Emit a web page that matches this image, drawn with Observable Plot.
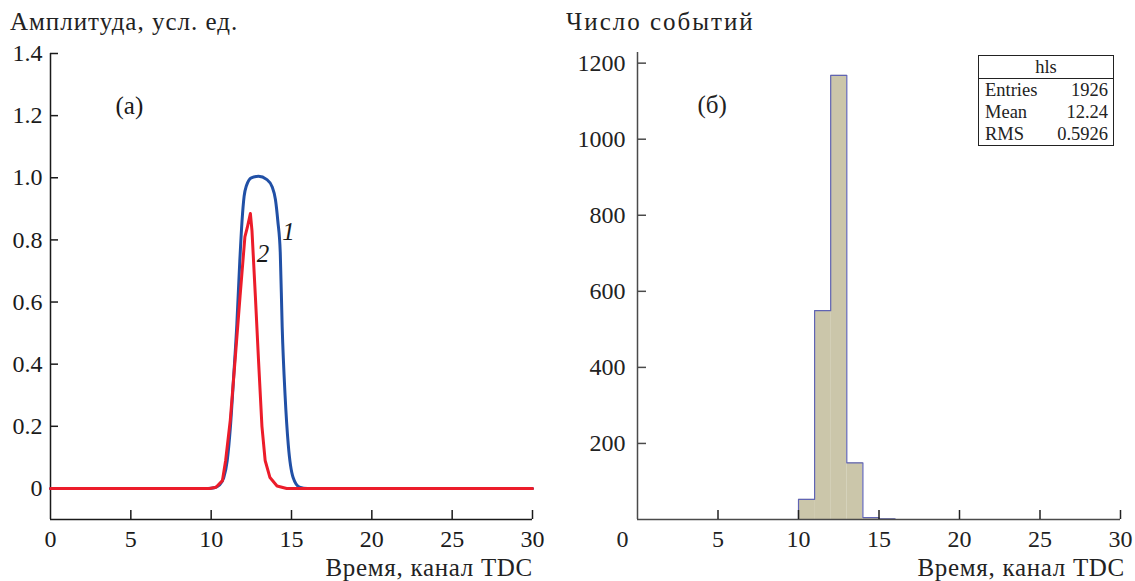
<!DOCTYPE html>
<html>
<head>
<meta charset="utf-8">
<script src="https://cdn.jsdelivr.net/npm/d3@7"></script>
<script src="https://cdn.jsdelivr.net/npm/@observablehq/plot@0.6"></script>
<style>
  body { margin: 0; background: #fff; }
  #wrap { position: relative; width: 1135px; height: 581px; overflow: hidden;
          font-family: "Liberation Serif", "Times New Roman", serif; color: #222; }
  .panel { position: absolute; top: 0; }
  .txt { position: absolute; white-space: nowrap; font-size: 25px; line-height: 1; }
  #stats { position: absolute; left: 978px; top: 55px; width: 134px; border: 1px solid #222;
           background: #fff; font-size: 18.5px; line-height: 1; color: #222; }
  #stats .hdr { text-align: center; height: 22px; line-height: 22px; border-bottom: 1px solid #222; }
  #stats .row { display: flex; justify-content: space-between; padding: 0 5px 0 6px; height: 22px; line-height: 22px; }
</style>
</head>
<body>
<div id="wrap">
  <div class="txt" style="left:10px; top:9px; letter-spacing:1px;">Амплитуда, усл. ед.</div>
  <div class="txt" style="left:566px; top:9px; letter-spacing:2px;">Число событий</div>
  <div class="txt" style="right:602px; top:555px; letter-spacing:0.7px;">Время, канал TDC</div>
  <div class="txt" style="right:10px; top:555px; letter-spacing:0.7px;">Время, канал TDC</div>
  <div id="left" class="panel" style="left:0"></div>
  <div id="right" class="panel" style="left:567px"></div>
  <div id="stats"></div>
</div>
<script>
// Panel (а): pulse shapes, amplitude vs TDC channel
const timeBlue = [0, 9.8, 10.2, 10.5, 10.78, 11.0, 11.2, 11.4, 11.6, 11.78, 11.92, 12.05, 12.2, 12.5,
                  12.95, 13.45, 13.8, 14.0, 14.15, 14.3, 14.42, 14.6, 14.8, 15.1, 15.5, 16.0, 30];
const ampBlue  = [0, 0, 0.002, 0.01, 0.034, 0.09, 0.2, 0.36, 0.53, 0.73, 0.86, 0.94, 0.975, 1.0,
                  1.005, 0.995, 0.97, 0.93, 0.86, 0.76, 0.52, 0.3, 0.14, 0.035, 0.004, 0, 0];
const timeRed  = [0, 9.9, 10.3, 10.7, 10.9, 11.19, 11.5, 11.8, 12.1, 12.25, 12.44, 12.54,
                  12.75, 12.95, 13.16, 13.36, 13.66, 14.1, 14.7, 30];
const ampRed   = [0, 0, 0.004, 0.025, 0.09, 0.22, 0.42, 0.62, 0.81, 0.84, 0.885, 0.83,
                  0.62, 0.41, 0.2, 0.09, 0.035, 0.008, 0, 0];
const ampTicks = [0, 0.2, 0.4, 0.6, 0.8, 1.0, 1.2, 1.4];
const timeTicks = [0, 5, 10, 15, 20, 25, 30];

// Panel (б): histogram of events per TDC channel
const binLow = [10, 11, 12, 13, 14, 15];
const binCount = [53, 549, 1168, 149, 5, 2];
const countTicks = [200, 400, 600, 800, 1000, 1200];
const statNames = ["Entries", "Mean", "RMS"];
const statValues = ["1926", "12.24", "0.5926"];

const font = "Liberation Serif, Times New Roman, serif";
const blue = "#2150a6", red = "#ec1c2a";

// ---- left panel ----
const LW = 567, LH = 581, lm = {l: 50, r: 35, t: 53, b: 62};
const lpw = LW - lm.l - lm.r, lph = LH - lm.t - lm.b;
const blueData = timeBlue.map((t, i) => ({t, a: ampBlue[i]}));
const redData = timeRed.map((t, i) => ({t, a: ampRed[i]}));
const ink = "#1a1a1a";

const leftPlot = Plot.plot({
  width: LW, height: LH,
  marginLeft: lm.l, marginRight: lm.r, marginTop: lm.t, marginBottom: lm.b,
  x: {domain: [0, 30]},
  y: {domain: [-0.1, 1.4]},
  style: {fontFamily: font, fontSize: "24px", color: ink, background: "transparent", overflow: "visible"},
  marks: [
    Plot.ruleY([-0.1], {stroke: ink, strokeWidth: 1.5}),
    Plot.ruleX([0], {stroke: ink, strokeWidth: 1.5}),
    Plot.tickX(timeTicks.filter(d => d > 0), {x: d => d, insetTop: lph - 9, stroke: ink, strokeWidth: 1.5}),
    Plot.tickY(ampTicks, {y: d => d, insetRight: lpw - 8, stroke: ink, strokeWidth: 1.5}),
    Plot.axisX({ticks: timeTicks, tickSize: 0, tickPadding: 10, label: null, fontSize: 24, tickFormat: d => String(d)}),
    Plot.axisY({ticks: ampTicks, tickSize: 0, tickPadding: 8, label: null, fontSize: 24,
                tickFormat: d => d === 0 ? "0" : d.toFixed(1)}),
    Plot.line(blueData, {x: "t", y: "a", stroke: blue, strokeWidth: 3, curve: "monotone-x"}),
    Plot.line(redData, {x: "t", y: "a", stroke: red, strokeWidth: 3}),
    Plot.text(["(а)"], {frameAnchor: "top-left", dx: 65, dy: 43, fontSize: 25, textAnchor: "start", fill: ink}),
    Plot.text([{t: 14.82, a: 0.825, s: "1"}, {t: 13.23, a: 0.755, s: "2"}],
              {x: "t", y: "a", text: "s", fontSize: 25, fontStyle: "italic", fill: ink})
  ]
});
document.getElementById("left").append(leftPlot);

// ---- right panel ----
const RW = 568, RH = 581, rm = {l: 70, r: 15, t: 52, b: 62};
const rpw = RW - rm.l - rm.r, rph = RH - rm.t - rm.b;
const bins = binLow.map((lo, i) => ({lo, hi: lo + 1, n: binCount[i]}));
const last = bins[bins.length - 1];
const outline = [{x: bins[0].lo, y: 0}, ...bins.map(b => ({x: b.lo, y: b.n})), {x: last.hi, y: last.n}, {x: last.hi, y: 0}];
const axInk = "#4a4a4a";

const rightPlot = Plot.plot({
  width: RW, height: RH,
  marginLeft: rm.l, marginRight: rm.r, marginTop: rm.t, marginBottom: rm.b,
  x: {domain: [0, 30]},
  y: {domain: [0, 1228]},
  style: {fontFamily: font, fontSize: "24px", color: "#222", background: "transparent", overflow: "visible"},
  marks: [
    Plot.rectY(bins, {x1: "lo", x2: "hi", y: "n", fill: "#cbc6aa", inset: 0}),
    Plot.line(outline, {x: "x", y: "y", curve: "step-after", stroke: "#6064b4", strokeWidth: 1.2}),
    Plot.ruleY([0], {stroke: axInk, strokeWidth: 1.5}),
    Plot.ruleX([0], {stroke: axInk, strokeWidth: 1.5}),
    Plot.tickX(timeTicks.filter(d => d > 0), {x: d => d, insetTop: rph - 9, stroke: "#222", strokeWidth: 1.5}),
    Plot.tickY(countTicks, {y: d => d, insetRight: rpw - 9, stroke: axInk, strokeWidth: 1.5}),
    Plot.axisX({ticks: timeTicks.filter(d => d > 0), tickSize: 0, tickPadding: 10, label: null, fontSize: 24, tickFormat: d => String(d)}),
    Plot.axisX({ticks: [0], tickSize: 0, tickPadding: 10, label: null, fontSize: 24, dx: -15, tickFormat: d => String(d)}),
    Plot.axisY({ticks: countTicks, tickSize: 0, tickPadding: 12, label: null, fontSize: 24, tickFormat: d => String(d)}),
    Plot.text(["(б)"], {frameAnchor: "top-left", dx: 60, dy: 43, fontSize: 25, textAnchor: "start", fill: "#222"})
  ]
});
document.getElementById("right").append(rightPlot);

// ---- statistics box ----
const stats = document.getElementById("stats");
const hdr = document.createElement("div");
hdr.className = "hdr";
hdr.textContent = "hls";
stats.append(hdr);
statNames.forEach((name, i) => {
  const row = document.createElement("div");
  row.className = "row";
  const a = document.createElement("span"); a.textContent = name;
  const b = document.createElement("span"); b.textContent = statValues[i];
  row.append(a, b);
  stats.append(row);
});
</script>
</body>
</html>
